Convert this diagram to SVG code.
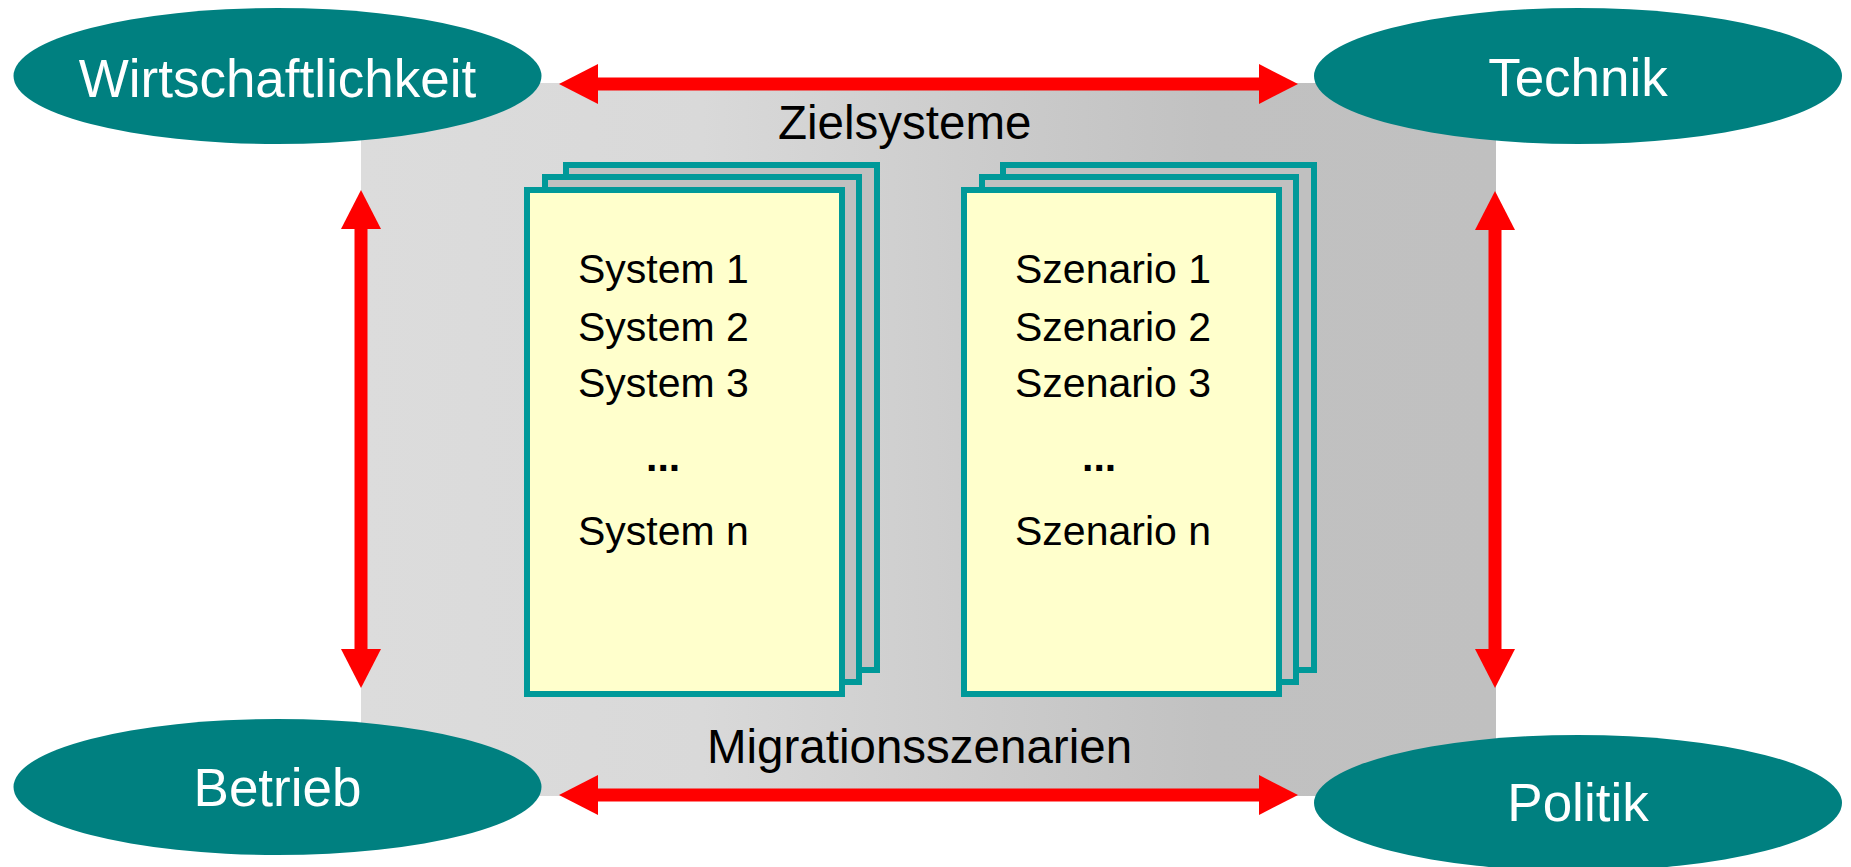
<svg xmlns="http://www.w3.org/2000/svg" width="1851" height="867" viewBox="0 0 1851 867">
<style>
.ell{fill:#008080}
.etxt{font-family:"Liberation Sans",Arial,sans-serif;font-size:53px;fill:#ffffff;text-anchor:middle}
.lbl{font-family:"Liberation Sans",Arial,sans-serif;font-size:47.5px;fill:#000000}
.doc{fill:#FFFFCC;stroke:#009999;stroke-width:6}
.back{fill:#C0C0C0;stroke:#009999;stroke-width:6}
.dtxt{font-family:"Liberation Sans",Arial,sans-serif;font-size:41px;fill:#000000}
.dots{font-family:"Liberation Sans",Arial,sans-serif;font-size:41px;font-weight:bold;fill:#000000}
.arr{stroke:#FF0000;stroke-width:13;fill:none;marker-start:url(#head);marker-end:url(#head)}
</style>
<defs>
<linearGradient id="bg" x1="0" y1="0" x2="1" y2="0">
<stop offset="0" stop-color="#DCDCDC"/>
<stop offset="0.3" stop-color="#D9D9D9"/>
<stop offset="0.75" stop-color="#C1C1C1"/>
<stop offset="1" stop-color="#C0C0C0"/>
</linearGradient>
<marker id="head" viewBox="0 0 39 40" refX="0" refY="20" markerWidth="39" markerHeight="40" markerUnits="userSpaceOnUse" orient="auto-start-reverse">
<path d="M0,0 L39,20 L0,40 z" fill="#FF0000"/>
</marker>
</defs>
<rect id="background" x="361" y="83" width="1135" height="713" fill="url(#bg)"/>
<text class="lbl" x="778" y="139">Zielsysteme</text>
<text class="lbl" x="707" y="763">Migrationsszenarien</text>
<g id="systeme">
<rect class="back" x="566" y="165" width="311" height="505"/>
<rect class="back" x="545" y="177" width="314" height="505"/>
<rect class="doc" x="527" y="190" width="315" height="504"/>
<text class="dtxt" x="578" y="283">System 1</text>
<text class="dtxt" x="578" y="341">System 2</text>
<text class="dtxt" x="578" y="397">System 3</text>
<text class="dots" x="646" y="471">...</text>
<text class="dtxt" x="578" y="545">System n</text>
</g>
<g id="szenarien">
<rect class="back" x="1003" y="165" width="311" height="505"/>
<rect class="back" x="982" y="177" width="314" height="505"/>
<rect class="doc" x="964" y="190" width="315" height="504"/>
<text class="dtxt" x="1015" y="283">Szenario 1</text>
<text class="dtxt" x="1015" y="341">Szenario 2</text>
<text class="dtxt" x="1015" y="397">Szenario 3</text>
<text class="dots" x="1082" y="471">...</text>
<text class="dtxt" x="1015" y="545">Szenario n</text>
</g>
<g id="connectors">
<path class="arr" d="M598,84 H1259"/>
<path class="arr" d="M598,795 H1259"/>
<path class="arr" d="M361,229 V649"/>
<path class="arr" d="M1495,230 V649"/>
</g>
<g id="wirtschaftlichkeit">
<ellipse class="ell" cx="277.5" cy="76" rx="264" ry="68"/>
<text class="etxt" x="277.5" y="97">Wirtschaftlichkeit</text>
</g>
<g id="technik">
<ellipse class="ell" cx="1578" cy="76" rx="264" ry="68"/>
<text class="etxt" x="1578" y="96">Technik</text>
</g>
<g id="betrieb">
<ellipse class="ell" cx="277.5" cy="787" rx="264" ry="68"/>
<text class="etxt" x="277.5" y="806">Betrieb</text>
</g>
<g id="politik">
<ellipse class="ell" cx="1578" cy="803" rx="264" ry="68"/>
<text class="etxt" x="1578" y="821">Politik</text>
</g>
</svg>
